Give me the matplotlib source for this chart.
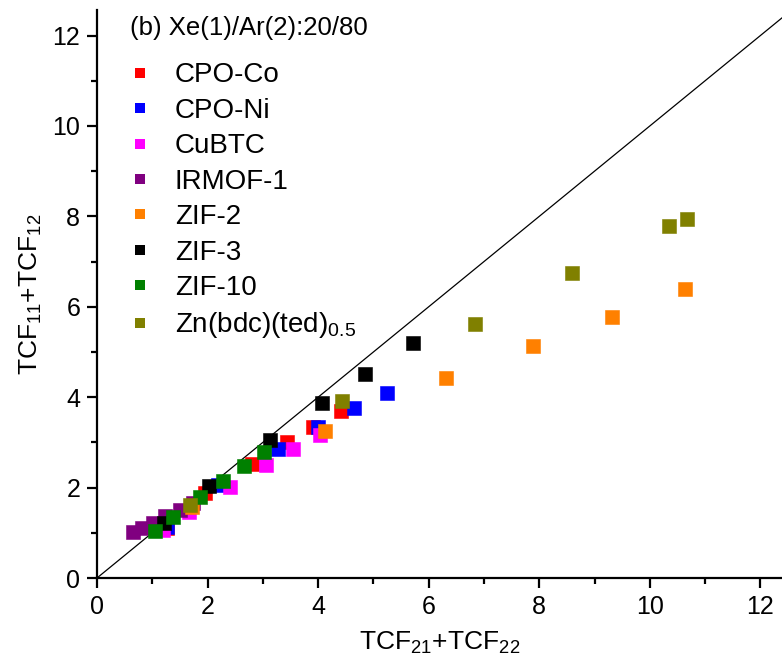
import matplotlib
matplotlib.use("Agg")
import matplotlib.pyplot as plt
from matplotlib.lines import Line2D
from matplotlib.ticker import MultipleLocator

# data (x = TCF21+TCF22, y = TCF11+TCF12)
names = ["CPO-Co", "CPO-Ni", "CuBTC", "IRMOF-1", "ZIF-2", "ZIF-3", "ZIF-10",
         r"Zn(bdc)(ted)$_{\mathregular{0.5}}$"]
colors = ["#FF0000", "#0000FF", "#FF00FF", "#800080", "#FF8000", "#000000",
          "#008000", "#808000"]

cpo_co_x = [1.27, 1.95, 2.80, 3.44, 3.91, 4.41]
cpo_co_y = [1.11, 1.88, 2.52, 3.01, 3.34, 3.69]
cpo_ni_x = [1.27, 2.19, 3.27, 4.00, 4.65, 5.24]
cpo_ni_y = [1.13, 2.06, 2.85, 3.34, 3.76, 4.09]
cubtc_x = [1.19, 1.66, 2.41, 3.06, 3.54, 4.03]
cubtc_y = [1.06, 1.46, 2.01, 2.50, 2.85, 3.16]
irmof_x = [0.65, 0.81, 1.01, 1.23, 1.50, 1.74]
irmof_y = [1.02, 1.11, 1.22, 1.37, 1.50, 1.66]
zif2_x = [1.72, 4.12, 6.31, 7.88, 9.31, 10.63]
zif2_y = [1.58, 3.25, 4.42, 5.13, 5.77, 6.39]
zif3_x = [1.21, 2.03, 3.13, 4.07, 4.85, 5.71]
zif3_y = [1.22, 2.04, 3.05, 3.87, 4.51, 5.20]
zif10_x = [1.05, 1.37, 1.86, 2.28, 2.66, 3.02]
zif10_y = [1.04, 1.35, 1.79, 2.15, 2.48, 2.79]
znbdc_x = [1.68, 4.43, 6.84, 8.59, 10.34, 10.67]
znbdc_y = [1.62, 3.92, 5.62, 6.75, 7.79, 7.94]

xs = [cpo_co_x, cpo_ni_x, cubtc_x, irmof_x, zif2_x, zif3_x, zif10_x, znbdc_x]
ys = [cpo_co_y, cpo_ni_y, cubtc_y, irmof_y, zif2_y, zif3_y, zif10_y, znbdc_y]

plt.rcParams.update({
    "font.family": ["Liberation Sans", "DejaVu Sans"],
    "mathtext.fontset": "custom",
    "mathtext.rm": "Liberation Sans",
    "axes.linewidth": 1.6,
})

fig = plt.figure(figsize=(7.82, 6.67), dpi=100)
ax = fig.add_axes([0.124, 0.1334, 0.876, 0.852])

ax.plot([0, 13], [0, 13], color="black", lw=0.9, zorder=1)
for x, y, c in zip(xs, ys, colors):
    ax.scatter(x, y, s=90, marker="s", color=c, edgecolors=c, linewidths=0.4,
               zorder=3)

ax.set_xlim(0, 12.39)
ax.set_ylim(0, 12.57)
ax.xaxis.set_major_locator(MultipleLocator(2))
ax.xaxis.set_minor_locator(MultipleLocator(1))
ax.yaxis.set_major_locator(MultipleLocator(2))
ax.yaxis.set_minor_locator(MultipleLocator(1))
ax.tick_params(which="major", direction="out", length=7, width=1.6,
               labelsize=18, pad=5)
ax.tick_params(which="minor", direction="out", length=4, width=1.6)
ax.spines["top"].set_visible(False)
ax.spines["right"].set_visible(False)

ax.set_xlabel(r"TCF$_{\mathregular{21}}$+TCF$_{\mathregular{22}}$",
              fontsize=19, labelpad=8)
ax.set_ylabel(r"TCF$_{\mathregular{11}}$+TCF$_{\mathregular{12}}$",
              fontsize=19, labelpad=6)

ax.text(0.048, 0.968, "(b) Xe(1)/Ar(2):20/80", transform=ax.transAxes,
        fontsize=18.5, va="center", ha="left")

handles = [Line2D([], [], ls="none", marker="s", markersize=7.5, color=c,
                  markeredgewidth=0) for c in colors]
ax.legend(handles, names, loc="upper left", bbox_to_anchor=(0.026, 0.927),
          frameon=False, fontsize=20, handlelength=1.0, handletextpad=0.76,
          labelspacing=0.34, borderaxespad=0)

fig.savefig("out.png", dpi=100)
